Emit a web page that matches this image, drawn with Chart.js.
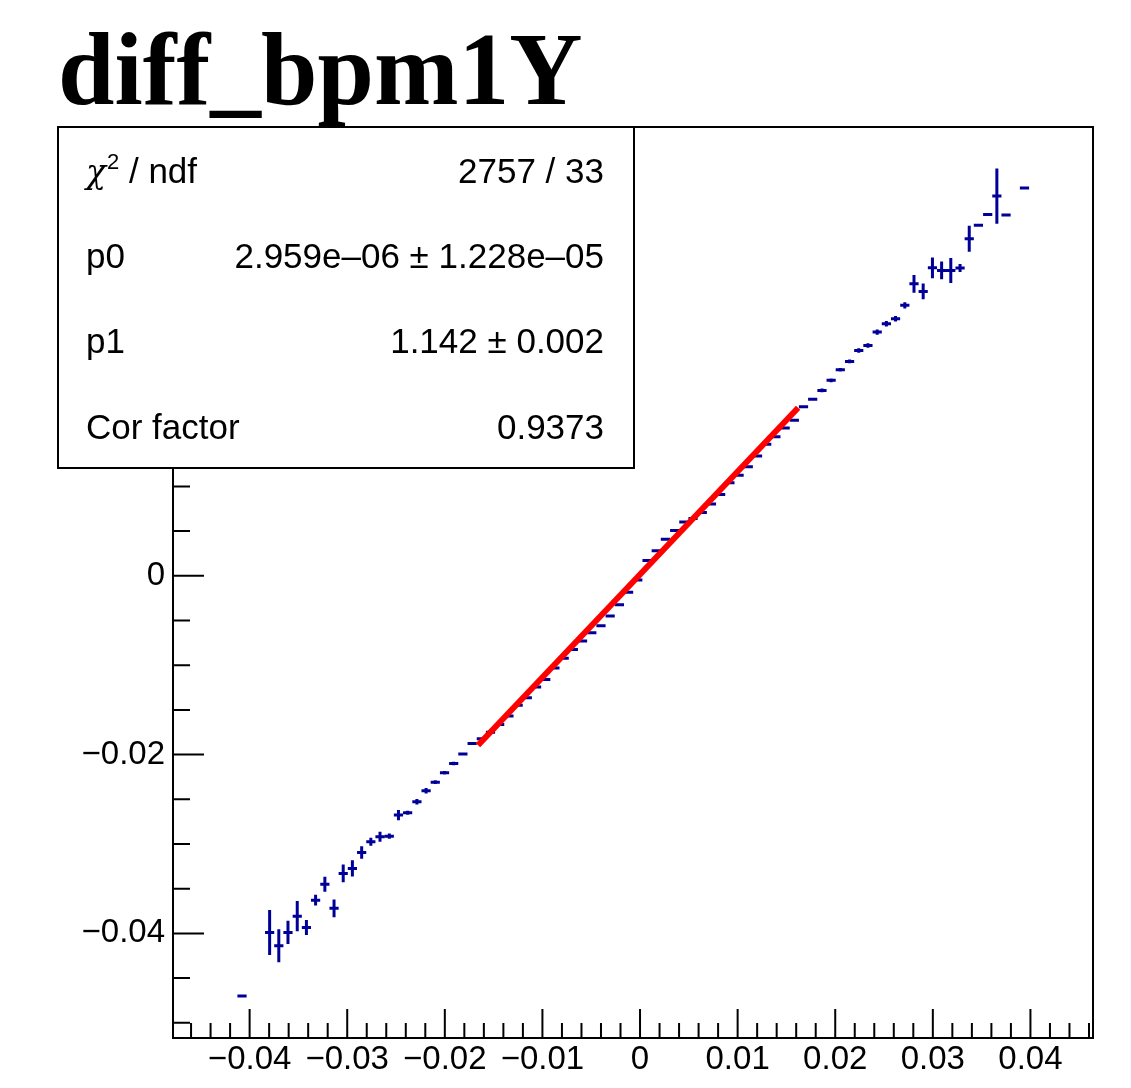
<!DOCTYPE html>
<html>
<head>
<meta charset="utf-8">
<script src="https://cdn.jsdelivr.net/npm/chart.js@4"></script>
<style>
  html, body { margin: 0; padding: 0; background: #fff; }
  #wrap { position: relative; width: 1131px; height: 1088px; }
</style>
</head>
<body>
<div id="wrap"><canvas id="myChart"></canvas></div>
<script>
// profile bins (bin centre, mean, error on mean)
const binX = [
  -0.04078, -0.03795, -0.03701, -0.03607, -0.03512, -0.03418, -0.03324, -0.03229,
  -0.03135, -0.03041, -0.02947, -0.02852, -0.02758, -0.02664, -0.02569, -0.02475,
  -0.02381, -0.02286, -0.02192, -0.02098, -0.02003, -0.01909, -0.01815, -0.01720,
  -0.01626, -0.01532, -0.01438, -0.01343, -0.01249, -0.01155, -0.01060, -0.00966,
  -0.00872, -0.00777, -0.00683, -0.00589, -0.00494, -0.00400, -0.00306, -0.00211,
  -0.00117, -0.00023, 0.00072, 0.00166, 0.00260, 0.00355, 0.00449, 0.00543,
  0.00638, 0.00732, 0.00826, 0.00921, 0.01015, 0.01109, 0.01204, 0.01298,
  0.01392, 0.01487, 0.01581, 0.01675, 0.01769, 0.01864, 0.01958, 0.02052,
  0.02147, 0.02241, 0.02335, 0.02430, 0.02524, 0.02618, 0.02713, 0.02807,
  0.02901, 0.02996, 0.03090, 0.03184, 0.03279, 0.03373, 0.03467, 0.03562,
  0.03656, 0.03750, 0.03939
];
const binY = [
  -0.04701, -0.03989, -0.04139, -0.03989, -0.03807, -0.03933, -0.03628, -0.03449,
  -0.03720, -0.03329, -0.03273, -0.03094, -0.02975, -0.02919, -0.02912, -0.02677,
  -0.02651, -0.02528, -0.02405, -0.02308, -0.02204, -0.02099, -0.01994, -0.01875,
  -0.01823, -0.01750, -0.01664, -0.01568, -0.01448, -0.01364, -0.01245, -0.01159,
  -0.01030, -0.00921, -0.00825, -0.00729, -0.00637, -0.00558, -0.00450, -0.00325,
  -0.00184, -0.00048, 0.00172, 0.00279, 0.00409, 0.00506, 0.00602, 0.00642,
  0.00707, 0.00802, 0.00909, 0.01041, 0.01125, 0.01221, 0.01341, 0.01471,
  0.01556, 0.01653, 0.01739, 0.01891, 0.01975, 0.02074, 0.02186, 0.02304,
  0.02398, 0.02521, 0.02577, 0.02726, 0.02819, 0.02875, 0.03025, 0.03266,
  0.03181, 0.03445, 0.03416, 0.03416, 0.03442, 0.03770, 0.03920, 0.04042,
  0.04247, 0.04035, 0.04337
];
const binErr = [
  0, 0.00252, 0.00185, 0.00130, 0.00170, 0.00084, 0.00060, 0.00084,
  0.00100, 0.00100, 0.00090, 0.00070, 0.00045, 0.00055, 0.00030, 0.00056,
  0.00022, 0.00030, 0.00030, 0.00020, 0.00020, 0.00020, 0.00012, 0.00012,
  0.00010, 0.00008, 0.00008, 0.00008, 0.00008, 0.00008, 0.00008, 0.00008,
  0.00008, 0.00008, 0.00008, 0.00008, 0.00008, 0.00008, 0.00008, 0.00008,
  0.00008, 0.00008, 0.00008, 0.00008, 0.00008, 0.00008, 0.00008, 0.00008,
  0.00008, 0.00008, 0.00008, 0.00008, 0.00008, 0.00008, 0.00008, 0.00008,
  0.00008, 0.00008, 0.00008, 0.00008, 0.00010, 0.00020, 0.00020, 0.00020,
  0.00020, 0.00025, 0.00025, 0.00030, 0.00030, 0.00030, 0.00035, 0.00099,
  0.00088, 0.00116, 0.00099, 0.00140, 0.00045, 0.00145, 0, 0.00010,
  0.00308, 0, 0
];
const binHalfWidth = 0.000471;

// fitted line pol1, drawn over its fit range
const fitX = [-0.0166, 0.0162];
const fitY = [-0.01896, 0.01880];

// axis
const xMin = -0.04785, xMax = 0.04641;
const yMin = -0.0517, yMax = 0.0502;
const xLabelStep = 0.01, yLabelStep = 0.02;

// stats box
const titleText = "diff_bpm1Y";
const statNames = ["/ ndf", "p0", "p1", "Cor factor"];
const statValues = ["2757 / 33", "2.959e\u201306 \u00b1 1.228e\u201305", "1.142 \u00b1 0.002", "0.9373"];

const blue = "#000099";

function fmtTick(v) {
  if (Math.abs(v) < 1e-9) return "0";
  const s = (Math.round(Math.abs(v) * 100) / 100).toFixed(2);
  return (v < 0 ? "\u2212" : "") + s;
}

const errorBars = {
  id: "errorBars",
  beforeDatasetsDraw(chart) {
    const { ctx, chartArea: a, scales: { x, y } } = chart;
    ctx.save();
    ctx.beginPath();
    ctx.rect(a.left, a.top, a.right - a.left, a.bottom - a.top);
    ctx.clip();
    ctx.strokeStyle = blue;
    ctx.lineWidth = 3;
    ctx.beginPath();
    for (let i = 0; i < binX.length; i++) {
      const px = x.getPixelForValue(binX[i]);
      const py = y.getPixelForValue(binY[i]);
      ctx.moveTo(x.getPixelForValue(binX[i] - binHalfWidth), py);
      ctx.lineTo(x.getPixelForValue(binX[i] + binHalfWidth), py);
      if (binErr[i] > 0) {
        ctx.moveTo(px, y.getPixelForValue(binY[i] - binErr[i]));
        ctx.lineTo(px, y.getPixelForValue(binY[i] + binErr[i]));
      }
    }
    ctx.stroke();
    ctx.restore();
  }
};

const frameAndBox = {
  id: "frameAndBox",
  afterDraw(chart) {
    const { ctx, chartArea: a, scales: { x, y } } = chart;
    ctx.save();
    ctx.strokeStyle = "#000";
    ctx.lineWidth = 2;
    ctx.strokeRect(a.left, a.top, a.right - a.left, a.bottom - a.top);

    // inward ticks, ROOT style
    ctx.beginPath();
    for (let k = -30; k <= 30; k++) {
      const v = k * 0.002;
      if (v < xMin || v > xMax) continue;
      const px = x.getPixelForValue(v);
      const len = k % 5 === 0 ? 29 : 15;
      ctx.moveTo(px, a.bottom);
      ctx.lineTo(px, a.bottom - len);
    }
    for (let k = -12; k <= 12; k++) {
      const v = k * 0.005;
      if (v < yMin || v > yMax) continue;
      const py = y.getPixelForValue(v);
      const len = k % 4 === 0 ? 31 : 17;
      ctx.moveTo(a.left, py);
      ctx.lineTo(a.left + len, py);
    }
    ctx.stroke();

    // stats box
    const bx = 58, by = 127, bw = 576, bh = 341;
    ctx.fillStyle = "#fff";
    ctx.fillRect(bx, by, bw, bh);
    ctx.strokeRect(bx, by, bw, bh);
    ctx.fillStyle = "#000";
    ctx.textBaseline = "alphabetic";
    const rows = [183, 268, 353, 439];
    const statFont = "35px 'Liberation Sans', Arial, sans-serif";
    ctx.font = statFont;
    for (let i = 0; i < rows.length; i++) {
      ctx.textAlign = "left";
      if (i === 0) {
        ctx.font = "italic 33px 'DejaVu Serif', 'Liberation Serif', serif";
        ctx.fillText("\u03c7", 86, rows[i]);
        const cw = ctx.measureText("\u03c7").width;
        ctx.font = "22px 'Liberation Sans', Arial, sans-serif";
        ctx.fillText("2", 86 + cw + 1, rows[i] - 14);
        const sw = ctx.measureText("2").width;
        ctx.font = statFont;
        ctx.fillText(" " + statNames[i], 86 + cw + sw + 1, rows[i]);
      } else {
        ctx.font = statFont;
        ctx.fillText(statNames[i], 86, rows[i]);
      }
      ctx.font = statFont;
      ctx.textAlign = "right";
      ctx.fillText(statValues[i], 604, rows[i]);
    }

    // title, slightly narrow like the ROOT output
    ctx.textAlign = "left";
    ctx.font = "bold 104px 'Liberation Serif', 'Times New Roman', serif";
    ctx.translate(58, 104);
    ctx.scale(0.976, 1);
    ctx.fillText(titleText, 0, 0);
    ctx.restore();
  }
};

const ctx = document.getElementById("myChart").getContext("2d");
const chart = new Chart(ctx, {
  type: "scatter",
  data: {
    datasets: [
      {
        label: "profile",
        data: binX.map((v, i) => ({ x: v, y: binY[i] })),
        pointRadius: 0,
        showLine: false,
        borderColor: blue,
        backgroundColor: blue
      },
      {
        label: "fit",
        data: fitX.map((v, i) => ({ x: v, y: fitY[i] })),
        showLine: true,
        pointRadius: 0,
        borderColor: "#ff0000",
        borderWidth: 6,
        fill: false
      }
    ]
  },
  options: {
    responsive: true,
    maintainAspectRatio: false,
    animation: false,
    events: [],
    layout: { padding: { left: 0, top: 127, right: 38, bottom: 0 } },
    plugins: {
      legend: { display: false },
      title: { display: false },
      tooltip: { enabled: false }
    },
    scales: {
      x: {
        type: "linear",
        min: xMin,
        max: xMax,
        grid: { display: false, drawTicks: false },
        border: { display: false },
        afterFit: (scale) => { scale.height = 50; },
        ticks: {
          stepSize: xLabelStep,
          includeBounds: false,
          autoSkip: false,
          maxRotation: 0,
          padding: 2,
          color: "#000",
          font: { family: "'Liberation Sans', Arial, sans-serif", size: 33 },
          callback: (v) => fmtTick(v)
        }
      },
      y: {
        type: "linear",
        min: yMin,
        max: yMax,
        grid: { display: false, drawTicks: false },
        border: { display: false },
        afterFit: (scale) => { scale.width = 173; },
        ticks: {
          stepSize: yLabelStep,
          includeBounds: false,
          autoSkip: false,
          padding: 8,
          color: "#000",
          font: { family: "'Liberation Sans', Arial, sans-serif", size: 33 },
          callback: (v) => fmtTick(v)
        }
      }
    }
  },
  plugins: [errorBars, frameAndBox]
});
</script>
</body>
</html>
